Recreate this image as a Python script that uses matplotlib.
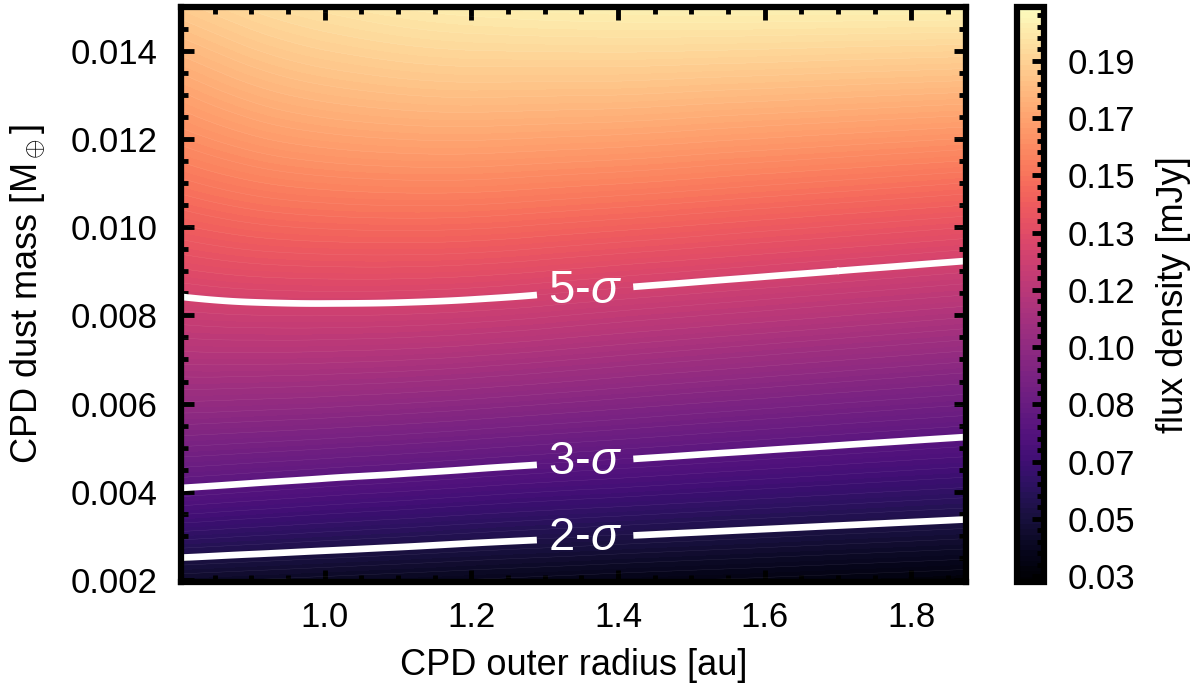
import numpy as np
import matplotlib
matplotlib.use('Agg')
import matplotlib.pyplot as plt
import matplotlib.tri as mtri
from matplotlib.ticker import MultipleLocator, AutoMinorLocator, FormatStrFormatter

plt.rcParams['font.family'] = ['Liberation Sans', 'DejaVu Sans']
plt.rcParams['mathtext.fontset'] = 'custom'
plt.rcParams['mathtext.rm'] = 'Liberation Sans'
plt.rcParams['mathtext.it'] = 'Liberation Sans:italic'
plt.rcParams['mathtext.bf'] = 'Liberation Sans:bold'

# values
radius_au = [0.80, 0.90, 1.00, 1.10, 1.20, 1.30, 1.40, 1.50, 1.60, 1.70, 1.80, 1.90]
# dust mass [M_earth] where the flux equals 2, 3 and 5 sigma
mass_2sigma = [0.00250, 0.00258, 0.00266, 0.00274, 0.00283, 0.00291,
               0.00299, 0.00307, 0.00315, 0.00323, 0.00331, 0.00339]
mass_3sigma = [0.00408, 0.00419, 0.00430, 0.00440, 0.00451, 0.00462,
               0.00472, 0.00483, 0.00494, 0.00505, 0.00516, 0.00527]
mass_5sigma = [0.00843, 0.00830, 0.00827, 0.00829, 0.00836, 0.00848,
               0.00862, 0.00875, 0.00888, 0.00901, 0.00914, 0.00927]
# flux density [mJy] along three rows of constant mass
mass_bottom = 0.0019
flux_bottom = [0.0414, 0.0403, 0.0392, 0.0381, 0.0371, 0.0361,
               0.0351, 0.0342, 0.0334, 0.0325, 0.0317, 0.0307]
mass_upper = 0.0125
flux_upper = [0.164, 0.169, 0.172, 0.1735, 0.174, 0.1735,
              0.173, 0.172, 0.171, 0.170, 0.169, 0.168]
mass_top = 0.0151
flux_top = [0.184, 0.189, 0.1925, 0.195, 0.1965, 0.1975,
            0.198, 0.1985, 0.1985, 0.1985, 0.1985, 0.1985]

noise_rms = 0.0255  # mJy
sigma_levels = [2, 3, 5]
flux_min, flux_max = 0.0292, 0.202
cbar_ticks = np.linspace(0.031, 0.1858, 10)
cbar_labels = ['0.03', '0.05', '0.07', '0.08', '0.10', '0.12', '0.13', '0.15', '0.17', '0.19']

# scattered (radius, mass, flux) samples
r_pts, m_pts, f_pts = [], [], []
for i, r in enumerate(radius_au):
    col_m = [mass_bottom, mass_2sigma[i], mass_3sigma[i], mass_5sigma[i], mass_upper, mass_top]
    col_f = [flux_bottom[i], 2 * noise_rms, 3 * noise_rms, 5 * noise_rms, flux_upper[i], flux_top[i]]
    r_pts += [r] * len(col_m)
    m_pts += col_m
    f_pts += col_f
r_pts = np.array(r_pts)
m_pts = np.array(m_pts)
f_pts = np.array(f_pts)

# triangulate in rescaled coordinates so the triangles are not squashed
scale = 60.0
tri_s = mtri.Triangulation(r_pts, m_pts * scale)
interp = mtri.CubicTriInterpolator(tri_s, f_pts, kind='min_E')
refiner = mtri.UniformTriRefiner(tri_s)
tri_fine_s, f_fine = refiner.refine_field(f_pts, triinterpolator=interp, subdiv=4)
tri_fine = mtri.Triangulation(tri_fine_s.x, tri_fine_s.y / scale, tri_fine_s.triangles)
f_fine = np.clip(f_fine, flux_min + 1e-5, flux_max - 1e-5)

fig = plt.figure(figsize=(12, 6.98), dpi=100)
ax = fig.add_axes([0.1508, 0.1662, 0.654, 0.8238])
cax = fig.add_axes([0.8475, 0.1662, 0.0225, 0.8238])

levels = np.linspace(flux_min, flux_max, 110)
cs = ax.tricontourf(tri_fine, f_fine, levels=levels, cmap='magma')
ax.tricontour(tri_fine, f_fine, levels=levels[::2], colors='white', linewidths=0.3, alpha=0.12)

sig_flux = [n * noise_rms for n in sigma_levels]
lines = ax.tricontour(tri_fine, f_fine, levels=sig_flux, colors='white', linewidths=4.8)
fmt = {lv: f'{n}-$\\sigma$' for lv, n in zip(lines.levels, sigma_levels)}
label_r = 1.355
manual = [(label_r, np.interp(label_r, radius_au, m))
          for m in (mass_2sigma, mass_3sigma, mass_5sigma)]
texts = ax.clabel(lines, fmt=fmt, manual=manual, inline=True, inline_spacing=10, fontsize=34)
for t in texts:
    t.set_rotation(0)

ax.set_xlim(0.804, 1.874)
ax.set_ylim(0.00195, 0.0150)
ax.xaxis.set_major_locator(MultipleLocator(0.2))
ax.xaxis.set_minor_locator(MultipleLocator(0.05))
ax.yaxis.set_major_locator(MultipleLocator(0.002))
ax.yaxis.set_minor_locator(MultipleLocator(0.0005))
ax.xaxis.set_major_formatter(FormatStrFormatter('%.1f'))
ax.yaxis.set_major_formatter(FormatStrFormatter('%.3f'))
ax.tick_params(which='both', direction='in', top=True, right=True, width=3.5, labelsize=25)
ax.tick_params(which='major', length=9)
ax.tick_params(which='minor', length=5)
ax.tick_params(axis='y', pad=17)
ax.tick_params(axis='x', pad=14)
for sp in ax.spines.values():
    sp.set_linewidth(4.5)
ax.set_xlabel('CPD outer radius [au]', fontsize=26, labelpad=10)
ax.set_ylabel(r'CPD dust mass [M$_\oplus$]', fontsize=26, labelpad=17)

cbar = fig.colorbar(cs, cax=cax)
cbar.set_ticks(cbar_ticks)
cbar.set_ticklabels(cbar_labels)
cax.yaxis.set_minor_locator(AutoMinorLocator(5))
cax.tick_params(which='both', direction='in', right=True, left=False, width=3.5,
                labelsize=25, pad=17)
cax.tick_params(which='major', length=9)
cax.tick_params(which='minor', length=5)
cbar.outline.set_linewidth(4.5)
cbar.set_label('flux density [mJy]', fontsize=26, labelpad=15)

fig.savefig('out.png', dpi=100)
